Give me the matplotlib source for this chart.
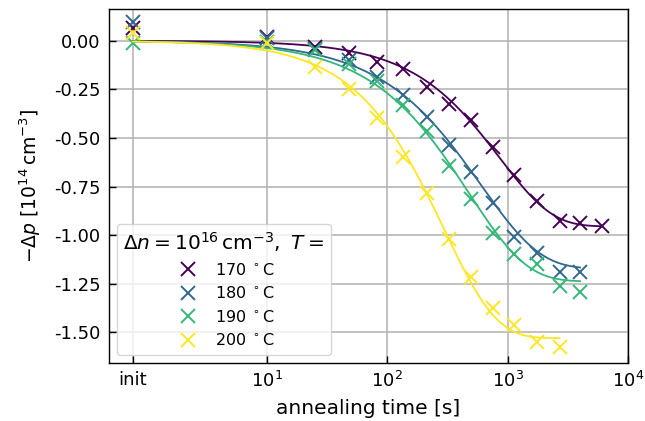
import matplotlib
matplotlib.use("Agg")
import matplotlib.pyplot as plt
import numpy as np

# annealing times [s]; the "init" measurement sits left of 10 s on the log axis
t_init = 0.77
times = [t_init, 10, 25, 48, 82, 134, 213, 328, 500, 761, 1127, 1740, 2690, 3980, 6000]

temps = ["170", "180", "190", "200"]

# -Δp [1e14 cm^-3] per temperature
dp_170 = [0.065, 0.019, -0.032, -0.062, -0.107, -0.147, -0.238, -0.327, -0.408,
          -0.545, -0.691, -0.825, -0.927, -0.939, -0.952]
dp_180 = [0.094, 0.012, -0.040, -0.100, -0.185, -0.279, -0.391, -0.537, -0.674,
          -0.833, -1.008, -1.092, -1.192, -1.188]
dp_190 = [-0.012, -0.005, -0.050, -0.120, -0.205, -0.331, -0.462, -0.643, -0.816,
          -0.991, -1.098, -1.149, -1.259, -1.291]
dp_200 = [0.038, -0.012, -0.134, -0.246, -0.399, -0.597, -0.783, -1.019, -1.217,
          -1.377, -1.460, -1.548, -1.574]
series = [dp_170, dp_180, dp_190, dp_200]

# stretched-exponential fit: A * (1 - exp(-(t/tau)**beta))
fit_A = [-0.955, -1.172, -1.238, -1.530]
fit_tau = [860.0, 597.0, 475.0, 295.0]
fit_beta = [1.00, 0.88, 0.90, 1.00]

colors = [plt.cm.viridis(v) for v in np.linspace(0, 1, len(temps))]

fig = plt.figure(figsize=(6.45, 4.21), dpi=100)
ax = fig.add_axes([0.169, 0.1385, 0.805, 0.840])

for i, dp in enumerate(series):
    t = np.array(times[:len(dp)])
    ax.plot(t, dp, "x", ls="none", color=colors[i], ms=10, mew=1.4,
            label=f"{temps[i]} $^\\circ$C")
    tt = np.logspace(np.log10(t_init), np.log10(t[-1]), 300)
    fit = fit_A[i] * (1 - np.exp(-(tt / fit_tau[i]) ** fit_beta[i]))
    ax.plot(tt, fit, "-", color=colors[i], lw=1.3)

ax.set_xscale("log")
ax.set_xlim(0.49, 1e4)
ax.set_ylim(-1.656, 0.163)
ax.set_xticks([t_init, 10, 100, 1000, 10000])
ax.set_xticklabels(["init", "$10^1$", "$10^2$", "$10^3$", "$10^4$"])
ax.xaxis.set_minor_locator(matplotlib.ticker.NullLocator())
ax.set_yticks(np.arange(-1.5, 0.01, 0.25))
ax.yaxis.set_major_formatter(matplotlib.ticker.FormatStrFormatter("%.2f"))

ax.tick_params(direction="in", length=5, width=1.0, labelsize=13, pad=6)
ax.grid(True, color="#b0b0b0", lw=1.1)
for s in ax.spines.values():
    s.set_linewidth(1.0)

ax.set_xlabel("annealing time [s]", fontsize=14.5, labelpad=6)
ax.set_ylabel("$-\\Delta p$ [$10^{14}\\,\\mathrm{cm}^{-3}$]", fontsize=13.5, labelpad=8)

ax.legend(loc="lower left", fontsize=11.5, labelspacing=0.47, handletextpad=0.7,
          title="$\\Delta n = 10^{16}\\,\\mathrm{cm}^{-3},\\ T =$", title_fontsize=14.5)

fig.savefig("out.png", dpi=100)
